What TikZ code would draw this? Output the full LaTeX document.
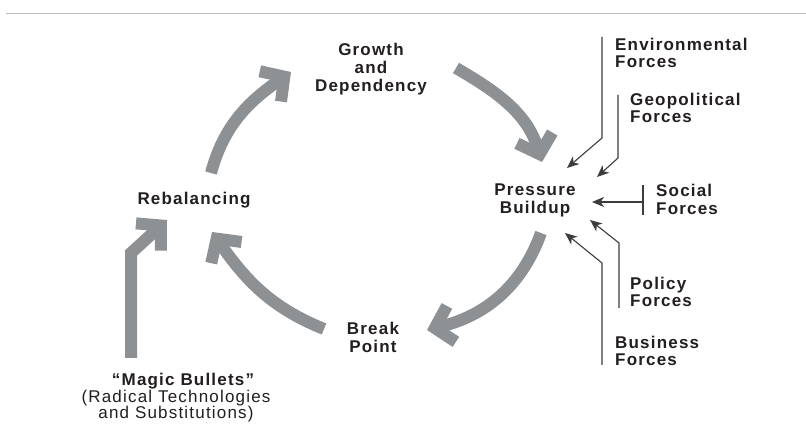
\documentclass[tikz,border=0pt]{standalone}
\usepackage{fontspec}
\setmainfont{Liberation Sans}
\newfontfamily\lblfont[LetterSpace=7]{Liberation Sans}
\usetikzlibrary{arrows.meta}
\definecolor{cyclegray}{HTML}{8E9194}
\definecolor{ink}{HTML}{231F20}
\definecolor{forceline}{HTML}{3C3C3C}
\definecolor{rulegray}{HTML}{BDBDBD}
\begin{document}
\begin{tikzpicture}[x=1pt,y=1pt,
  stage/.style={font=\lblfont\bfseries\fontsize{17}{18}\selectfont, text=ink, align=center, inner sep=0pt},
  note/.style={font=\lblfont\fontsize{17}{16.5}\selectfont, text=ink, align=center, inner sep=0pt},
  force/.style={font=\lblfont\bfseries\fontsize{17}{17.5}\selectfont, text=ink, align=left, anchor=west, inner sep=0pt},
  cyclearrow/.style={draw=cyclegray, line width=12pt, -{Straight Barb[sharp,length=17pt,width=37pt]}},
  pushline/.style={draw=forceline, line width=1.1pt, -{Stealth[length=12pt,width=10pt,inset=3.5pt]}},
  barline/.style={draw=forceline, line width=1.1pt},
]
\useasboundingbox (0,0) rectangle (806,433);
\fill[white] (0,0) rectangle (806,433);

% header rule
\coordinate (ruleL) at (6,419.5);
\coordinate (ruleR) at (806,419.5);
\draw[rulegray, line width=1.5pt] (ruleL) -- (ruleR);

% stages of the cycle
\node[stage] (growth)   at (371,364) {Growth\\and\\Dependency};
\node[stage] (pressure) at (535,233) {Pressure\\Buildup};
\node[stage] (break)    at (373,96)  {Break\\Point};
\node[stage] (rebal)    at (194,233) {Rebalancing};
\node[note]  (magic)    at (176,35)  {\hspace*{14pt}{\bfseries “Magic Bullets”}\\(Radical Technologies\\and Substitutions)};

% cycle arrows
\coordinate (c1s) at (211,260); \coordinate (c1e) at (291,361);
\coordinate (c2s) at (456,365); \coordinate (c2e) at (542,271);
\coordinate (c3s) at (541,200); \coordinate (c3e) at (427,103);
\coordinate (c4s) at (324,104); \coordinate (c4e) at (212,201);
\draw[cyclearrow] (c1s) to[out=75,in=215] (c1e);
\draw[cyclearrow] (c2s) to[out=-30,in=107] (c2e);
\draw[cyclearrow] (c3s) to[out=250,in=14] (c3e);
\draw[cyclearrow] (c4s) to[out=158,in=305] (c4e);

% magic bullets feed into rebalancing
\coordinate (m1) at (131,75); \coordinate (m2) at (131,180); \coordinate (m3) at (167,213);
\draw[cyclearrow] (m1) -- (m2) -- (m3);

% outside forces
\node[force] (envf) at (615,380) {Environmental\\Forces};
\node[force] (geof) at (630,325) {Geopolitical\\Forces};
\node[force] (socf) at (656,233.5) {Social\\Forces};
\node[force] (polf) at (630,141) {Policy\\Forces};
\node[force] (busf) at (615,82) {Business\\Forces};

\coordinate (e1) at (602,396); \coordinate (e2) at (602,295); \coordinate (e3) at (567,265);
\coordinate (g1) at (618,338); \coordinate (g2) at (618,275); \coordinate (g3) at (597,256);
\coordinate (s0) at (643,248); \coordinate (s1) at (643,218);
\coordinate (s2) at (643,231); \coordinate (s3) at (592,231);
\coordinate (p1) at (619,125); \coordinate (p2) at (619,190); \coordinate (p3) at (590,213);
\coordinate (b1) at (602,68);  \coordinate (b2) at (602,170); \coordinate (b3) at (565,200);

\draw[pushline] (e1) -- (e2) -- (e3);
\draw[pushline] (g1) -- (g2) -- (g3);
\draw[barline] (s0) -- (s1);
\draw[pushline] (s2) -- (s3);
\draw[pushline] (p1) -- (p2) -- (p3);
\draw[pushline] (b1) -- (b2) -- (b3);
\end{tikzpicture}
\end{document}
